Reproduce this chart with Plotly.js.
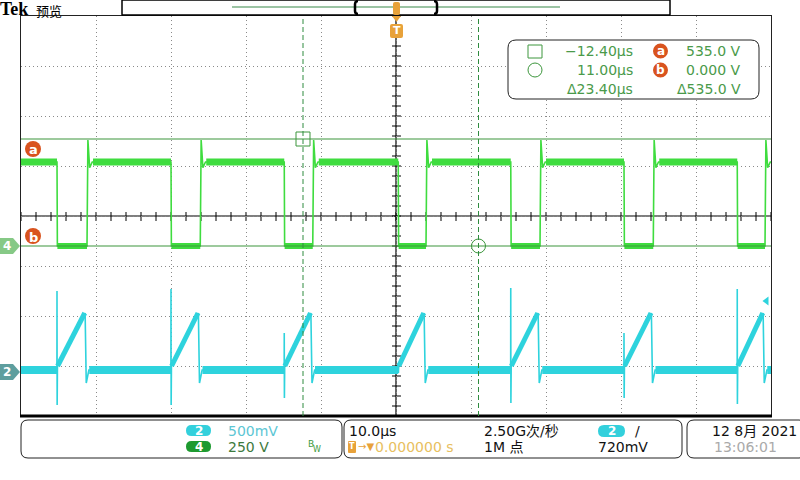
<!DOCTYPE html>
<html><head><meta charset="utf-8">
<script src="https://cdn.plot.ly/plotly-3.0.1.min.js"></script>
<style>html,body{margin:0;padding:0;background:#fff;overflow:hidden}#chart{width:800px;height:480px}</style>
</head><body><div id="chart"></div>
<script>
// ---------- data read from the screen ----------
// time axis: 10.0 µs/div, 10 divisions, trigger at 0
const timeRange = [-50, 50];
// Channel 4 (green, 250 V/div): switching node voltage, edge times in µs
const ch4FallTimes = [-45.2, -30.0, -14.9, 0.3, 15.3, 30.4, 45.5];
const ch4RiseTimes = [-41.2, -26.1, -11.1, 4.0, 19.2, 34.3, 49.2];
const ch4LevelsV = [420, 0];          // [high, low]
const ch4RiseOvershootV = [530, 392]; // [peak, ring]
// Channel 2 (cyan, 500 mV/div): current sense, ramp while switch on
const ch2BaselineV = 0.03;
const ch2RampV = [0.07, 0.60];        // [start, peak]
const ch2DipV = -0.10;
const ch2SpikeTopV = [0.82, 0.84, 0.40, 0.10, 0.85, 0.40, 0.84];
const ch2SpikeBottomV = [-0.32, -0.32, -0.25, 0.0, -0.30, -0.25, -0.31];
// cursors
const cursorTimes = [-12.40, 11.00];
const cursorVolts = [535.0, 0.000];
const triggerLevelV = 0.72;
// scale settings
const ch4VoltsPerDiv = 250, ch4OffsetDiv = -0.6;
const ch2VoltsPerDiv = 0.5, ch2OffsetDiv = -3.14;

// ---------- helpers ----------
const L = 21, R = 771, T = 16, B = 416;
const px = x => (x - L) / (R - L);
const py = y => (B - y) / (B - T);
const ch4 = v => v / ch4VoltsPerDiv + ch4OffsetDiv;
const ch2 = v => v / ch2VoltsPerDiv + ch2OffsetDiv;
const GREEN = '#3fdc3f', CYAN = '#2ed3dd', CUR = '#3c963c', ORANGE = '#d9531e';

function push(o, t, v) { o.x.push(t); o.y.push(v); }
function brk(o) { o.x.push(null); o.y.push(null); }

// Channel 4 thin full trace
const g = {x: [], y: []};
push(g, timeRange[0], ch4(ch4LevelsV[0]));
ch4FallTimes.forEach((f, i) => {
  const r = ch4RiseTimes[i];
  push(g, f, ch4(ch4LevelsV[0]));
  push(g, f + 0.05, ch4(ch4LevelsV[1]));
  push(g, r, ch4(ch4LevelsV[1]));
  push(g, r + 0.12, ch4(ch4RiseOvershootV[0]));
  push(g, r + 0.35, ch4(ch4RiseOvershootV[1]));
  push(g, r + 0.7, ch4(ch4LevelsV[0]));
});
push(g, timeRange[1], ch4(ch4LevelsV[0]));
// Channel 4 noise band (thick level segments)
const gHigh = {x: [], y: []}, gLow = {x: [], y: []};
push(gHigh, timeRange[0], ch4(ch4LevelsV[0])); push(gHigh, ch4FallTimes[0], ch4(ch4LevelsV[0])); brk(gHigh);
ch4FallTimes.forEach((f, i) => {
  const r = ch4RiseTimes[i];
  push(gLow, f + 0.05, ch4(ch4LevelsV[1])); push(gLow, r, ch4(ch4LevelsV[1])); brk(gLow);
  const nf = i + 1 < ch4FallTimes.length ? ch4FallTimes[i + 1] : timeRange[1];
  push(gHigh, r + 0.8, ch4(ch4LevelsV[0])); push(gHigh, nf, ch4(ch4LevelsV[0])); brk(gHigh);
});

// Channel 2 thin full trace
const c = {x: [], y: []};
push(c, timeRange[0], ch2(ch2BaselineV));
ch4FallTimes.forEach((f, i) => {
  const r = ch4RiseTimes[i];
  push(c, f - 0.01, ch2(ch2BaselineV));
  push(c, f, ch2(ch2SpikeTopV[i]));
  push(c, f + 0.02, ch2(ch2SpikeBottomV[i]));
  push(c, f + 0.06, ch2(ch2RampV[0]));
  push(c, r - 0.25, ch2(ch2RampV[1]));
  push(c, r - 0.1, ch2(ch2DipV));
  push(c, r + 0.25, ch2(ch2BaselineV));
});
push(c, timeRange[1], ch2(ch2BaselineV));
const cBase = {x: [], y: []}, cRamp = {x: [], y: []};
push(cBase, timeRange[0], ch2(ch2BaselineV)); push(cBase, ch4FallTimes[0], ch2(ch2BaselineV)); brk(cBase);
ch4FallTimes.forEach((f, i) => {
  const r = ch4RiseTimes[i];
  push(cRamp, f + 0.08, ch2(ch2RampV[0])); push(cRamp, r - 0.3, ch2(ch2RampV[1])); brk(cRamp);
  const nf = i + 1 < ch4FallTimes.length ? ch4FallTimes[i + 1] : timeRange[1];
  push(cBase, r + 0.3, ch2(ch2BaselineV)); push(cBase, nf, ch2(ch2BaselineV)); brk(cBase);
});

const traces = [
  {x: gHigh.x, y: gHigh.y, mode: 'lines', line: {color: GREEN, width: 7}, hoverinfo: 'skip', connectgaps: false},
  {x: gLow.x, y: gLow.y, mode: 'lines', line: {color: GREEN, width: 6}, hoverinfo: 'skip', connectgaps: false},
  {x: g.x, y: g.y, mode: 'lines', line: {color: GREEN, width: 1.6}, hoverinfo: 'skip'},
  {x: cBase.x, y: cBase.y, mode: 'lines', line: {color: CYAN, width: 8}, hoverinfo: 'skip', connectgaps: false},
  {x: cRamp.x, y: cRamp.y, mode: 'lines', line: {color: CYAN, width: 5}, hoverinfo: 'skip', connectgaps: false},
  {x: c.x, y: c.y, mode: 'lines', line: {color: CYAN, width: 1.6}, hoverinfo: 'skip'},
  // cursor markers
  {x: [cursorTimes[0]], y: [ch4(cursorVolts[0])], mode: 'markers', marker: {symbol: 'square-open', size: 14, color: CUR, line: {width: 1}}, hoverinfo: 'skip'},
  {x: [cursorTimes[1]], y: [ch4(cursorVolts[1])], mode: 'markers', marker: {symbol: 'circle-open', size: 14, color: CUR, line: {width: 1}}, hoverinfo: 'skip'},
  // trigger level arrow on right
  {x: [49.4], y: [ch2(triggerLevelV)], mode: 'markers', marker: {symbol: 'triangle-left', size: 8, color: CYAN}, hoverinfo: 'skip', cliponaxis: false}
];

// ---------- decorations ----------
const shapes = [];
const ann = [];
function line(x0, y0, x1, y1, color, width, dash) {
  shapes.push({type: 'line', xref: 'paper', yref: 'paper', x0: px(x0), y0: py(y0), x1: px(x1), y1: py(y1), line: {color, width, dash: dash || 'solid'}});
}
function rrect(x0, y0, x1, y1, r, fill, stroke, w) {
  const P = (x, y) => px(x) + ',' + py(y);
  const path = 'M' + P(x0 + r, y0) + ' L' + P(x1 - r, y0) + ' Q' + P(x1, y0) + ' ' + P(x1, y0 + r) +
    ' L' + P(x1, y1 - r) + ' Q' + P(x1, y1) + ' ' + P(x1 - r, y1) +
    ' L' + P(x0 + r, y1) + ' Q' + P(x0, y1) + ' ' + P(x0, y1 - r) +
    ' L' + P(x0, y0 + r) + ' Q' + P(x0, y0) + ' ' + P(x0 + r, y0) + ' Z';
  shapes.push({type: 'path', xref: 'paper', yref: 'paper', path, fillcolor: fill || 'rgba(0,0,0,0)', line: {color: stroke || 'rgba(0,0,0,0)', width: stroke ? (w || 1) : 0}});
}
function poly(pts, fill) {
  const path = 'M' + pts.map(p => px(p[0]) + ',' + py(p[1])).join(' L') + ' Z';
  shapes.push({type: 'path', xref: 'paper', yref: 'paper', path, fillcolor: fill, line: {width: 0}});
}
function circ(cx, cy, r, fill, stroke) {
  shapes.push({type: 'circle', xref: 'paper', yref: 'paper', x0: px(cx - r), x1: px(cx + r), y0: py(cy + r), y1: py(cy - r), fillcolor: fill, line: {color: stroke || fill, width: stroke ? 1 : 0}});
}
function txt(x, y, text, size, color, anchor, family, weight) {
  ann.push({xref: 'paper', yref: 'paper', x: px(x), y: py(y), text, showarrow: false, xanchor: anchor || 'left', yanchor: 'middle',
    font: {size, color, family: family || 'DejaVu Sans, sans-serif', weight: weight || 'normal'}, borderpad: 0});
}

// center cross tick marks
let tickPath = '';
for (let x = L; x <= R + 0.1; x += 15) tickPath += 'M' + px(x) + ',' + py(212) + ' L' + px(x) + ',' + py(221) + ' ';
for (let y = T; y <= B + 0.1; y += 10) tickPath += 'M' + px(392) + ',' + py(y) + ' L' + px(401) + ',' + py(y) + ' ';
shapes.push({type: 'path', xref: 'paper', yref: 'paper', path: tickPath, line: {color: '#000', width: 1}, layer: 'below'});
line(396, T, 396, B, '#000', 1.2); shapes[shapes.length - 1].layer = 'below';
line(L, 216, R, 216, '#000', 1.2); shapes[shapes.length - 1].layer = 'below';
line(L - 1, B, R + 1, B, '#000', 3);

// cursor lines
cursorTimes.forEach(t => shapes.push({type: 'line', xref: 'x', yref: 'paper', x0: t, x1: t, y0: 0, y1: 1, line: {color: '#2e8b3e', width: 1, dash: '5px,3px'}}));
cursorVolts.forEach(v => shapes.push({type: 'line', xref: 'paper', yref: 'y', x0: 0, x1: 1, y0: ch4(v), y1: ch4(v), line: {color: CUR, width: 1.2}}));

// a / b labels
circ(33, 149, 8, ORANGE); txt(33, 149, 'a', 13, '#fff', 'center', 'DejaVu Sans', 'bold');
circ(33, 236, 8, ORANGE); txt(33, 237, 'b', 13, '#fff', 'center', 'DejaVu Sans', 'bold');
// channel ground tabs
poly([[0, 238], [13, 238], [20, 246], [13, 254], [0, 254]], '#86c986'); txt(7, 246, '4', 12, '#fff', 'center', 'DejaVu Sans', 'bold');
poly([[0, 364], [13, 364], [20, 372], [13, 380], [0, 380]], '#5e9e9e'); txt(7, 372, '2', 12, '#fff', 'center', 'DejaVu Sans', 'bold');

// top bar
txt(-1, 9, 'Tek', 18, '#000', 'left', 'Liberation Serif', 'bold');
txt(35, 10, '预览', 13, '#000', 'left', 'Noto Sans CJK SC');
rrect(122, 0, 670, 15, 0.5, '#fff', '#000', 1.5);
line(232, 7, 560, 7, '#3a8a4a', 1.2);
shapes.push({type: 'path', xref: 'paper', yref: 'paper', path: 'M' + px(358) + ',' + py(1) + ' Q' + px(355) + ',' + py(1) + ' ' + px(355) + ',' + py(4) + ' L' + px(355) + ',' + py(11) + ' Q' + px(355) + ',' + py(14) + ' ' + px(358) + ',' + py(14), line: {color: '#000', width: 2.5}});
shapes.push({type: 'path', xref: 'paper', yref: 'paper', path: 'M' + px(434) + ',' + py(1) + ' Q' + px(437) + ',' + py(1) + ' ' + px(437) + ',' + py(4) + ' L' + px(437) + ',' + py(11) + ' Q' + px(437) + ',' + py(14) + ' ' + px(434) + ',' + py(14), line: {color: '#000', width: 2.5}});
rrect(393, 2, 400, 15, 2, '#e8a23a');
poly([[392, 16], [401, 16], [396.5, 22]], '#e8a23a');
rrect(390, 24, 403, 38, 2, '#e8a23a');
txt(396.5, 31, 'T', 11, '#fff', 'center', 'DejaVu Sans', 'bold');

// cursor readout
rrect(508, 40, 759, 99, 8, '#fff', '#222', 1);
rrect(528, 45, 542, 58, 0.1, 'rgba(0,0,0,0)', CUR, 1);
circ(535, 70, 7, 'rgba(0,0,0,0)', CUR);
const RC = '#4a9a4a';
const fmtT = v => (v < 0 ? '\u2212' : '') + Math.abs(v).toFixed(2) + 'µs';
txt(634, 51, fmtT(cursorTimes[0]), 14, RC, 'right');
txt(634, 70, fmtT(cursorTimes[1]), 14, RC, 'right');
txt(634, 89, 'Δ' + (cursorTimes[1] - cursorTimes[0]).toFixed(2) + 'µs', 14, RC, 'right');
circ(660.5, 51, 7.5, ORANGE); txt(660.5, 51, 'a', 12, '#fff', 'center', 'DejaVu Sans', 'bold');
circ(660.5, 70, 7.5, ORANGE); txt(660.5, 70, 'b', 12, '#fff', 'center', 'DejaVu Sans', 'bold');
txt(742, 51, cursorVolts[0].toFixed(1) + ' V', 14, RC, 'right');
txt(742, 70, cursorVolts[1].toFixed(3) + ' V', 14, RC, 'right');
txt(742, 89, 'Δ' + (cursorVolts[0] - cursorVolts[1]).toFixed(1) + ' V', 14, RC, 'right');

// bottom info boxes
rrect(21, 420, 342, 458, 7, '#fff', '#222', 1);
rrect(344, 420, 682, 458, 7, '#fff', '#222', 1);
rrect(687, 420, 806, 458, 7, '#fff', '#222', 1);
rrect(186, 425, 211, 436, 5.5, '#33d0dc'); txt(198.5, 431, '2', 12, '#fff', 'center', 'DejaVu Sans', 'bold');
rrect(186, 441, 211, 452, 5.5, '#1e9a30'); txt(198.5, 447, '4', 12, '#fff', 'center', 'DejaVu Sans', 'bold');
txt(227, 431, '500mV', 14, '#5cc6d4', 'left');
txt(227, 447, '250 V', 14, '#3d7a3d', 'left');
txt(307, 444, 'B', 9, '#3d9a3d', 'left');
txt(312, 449, 'W', 8, '#3d9a3d', 'left');
txt(348, 431, '10.0µs', 14, '#111', 'left');
rrect(348, 441, 356, 453, 1, '#e8a23a');
txt(352, 447, 'T', 8, '#fff', 'center', 'DejaVu Sans', 'bold');
txt(357, 447, '→▼', 10, '#e8a23a', 'left');
txt(374, 447, '0.000000 s', 14, '#e8c060', 'left');
txt(483, 431, '2.50G次/秒', 14, '#111', 'left', 'DejaVu Sans, Noto Sans CJK SC');
txt(483, 447, '1M 点', 14, '#111', 'left', 'DejaVu Sans, Noto Sans CJK SC');
rrect(598, 425, 625, 437, 6, '#33d0dc'); txt(611.5, 431, '2', 12, '#fff', 'center', 'DejaVu Sans', 'bold');
txt(637, 431, '/', 14, '#111', 'center');
txt(649, 447, (triggerLevelV * 1000).toFixed(0) + 'mV', 14, '#111', 'right');
txt(711, 431, '12 8月 2021', 14, '#111', 'left', 'DejaVu Sans, Noto Sans CJK SC');
txt(713, 447, '13:06:01', 14, '#aaa', 'left');

const layout = {
  width: 800, height: 480,
  margin: {l: L, r: 800 - R, t: T, b: 480 - B, pad: 0},
  paper_bgcolor: '#fff', plot_bgcolor: '#fff',
  showlegend: false,
  xaxis: {range: timeRange, dtick: 10, tick0: 0, showticklabels: false, ticks: '', zeroline: false,
    showgrid: true, gridcolor: '#8a8a8a', gridwidth: 1, griddash: '1px,3px',
    showline: true, mirror: true, linecolor: '#222', linewidth: 1, fixedrange: true},
  yaxis: {range: [-4, 4], dtick: 1, tick0: 0, showticklabels: false, ticks: '', zeroline: false,
    showgrid: true, gridcolor: '#8a8a8a', gridwidth: 1, griddash: '1px,3px',
    showline: true, mirror: true, linecolor: '#222', linewidth: 1, fixedrange: true},
  shapes, annotations: ann
};
Plotly.newPlot('chart', traces, layout, {displayModeBar: false, staticPlot: true});
</script></body></html>
